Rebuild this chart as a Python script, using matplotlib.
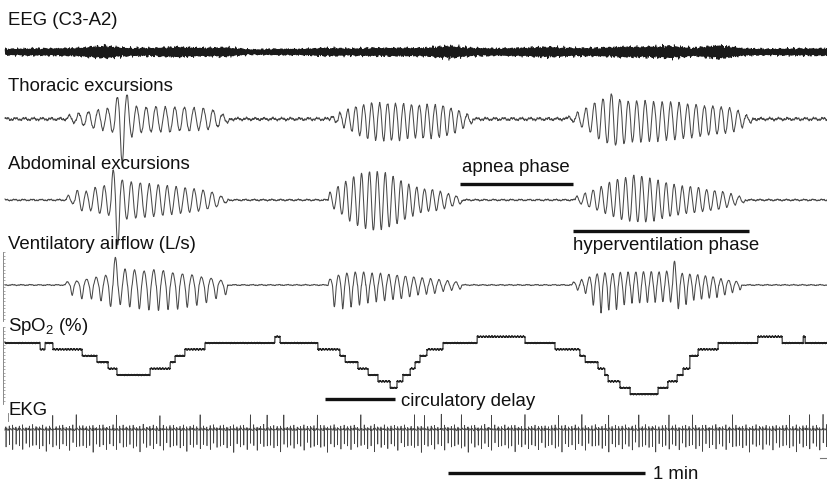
import numpy as np
import matplotlib.pyplot as plt

plt.rcParams['font.family'] = ['Liberation Sans', 'DejaVu Sans']
plt.rcParams['mathtext.fontset'] = 'custom'
plt.rcParams['mathtext.rm'] = 'Liberation Sans'

# time axis: 1 min = 197 px, traces start at x = 5 px
PX_PER_S = 197 / 60.0
X0 = 5
T_END = 250.7

# ---- respiration: burst start/end (s) and breath-by-breath deflections (px)
thor_bursts = [(18.9, 68.5), (99.0, 142.5), (171.2, 227.8)]
thor_up = [[3, 5, 7, 9, 11, 23, 25, 13, 12, 12, 11, 11, 11, 10, 10, 9, 5],
           [3, 7, 10, 13, 14, 15, 15, 15, 15, 15, 15, 15, 15, 14, 13, 10, 7, 4],
           [3, 7, 11, 16, 20, 25, 19, 17, 17, 17, 16, 16, 16, 16, 15, 15, 14, 14, 13, 12, 9, 4]]
thor_down = [[3, 6, 9, 11, 14, 45, 18, 14, 13, 12, 12, 11, 11, 10, 10, 8, 4],
             [4, 9, 13, 17, 19, 20, 21, 21, 21, 20, 20, 20, 19, 18, 16, 13, 8, 4],
             [3, 8, 13, 20, 24, 26, 24, 22, 22, 21, 21, 20, 20, 19, 19, 18, 17, 16, 15, 13, 9, 4]]

abd_bursts = [(18.6, 67.9), (98.4, 139.2), (173.6, 225.4)]
abd_up = [[4, 9, 8, 12, 14, 30, 20, 18, 17, 16, 15, 14, 13, 12, 11, 10, 8, 4],
          [8, 14, 19, 23, 26, 28, 28, 27, 24, 20, 16, 13, 11, 10, 8, 6, 4],
          [4, 7, 10, 13, 17, 20, 22, 25, 24, 22, 20, 18, 16, 14, 13, 12, 10, 9, 8, 6, 4]]
abd_down = [[3, 10, 10, 13, 15, 45, 19, 18, 17, 16, 15, 14, 13, 12, 11, 9, 7, 3],
            [9, 15, 21, 25, 28, 30, 29, 27, 24, 20, 16, 13, 11, 10, 8, 6, 4],
            [4, 7, 10, 13, 16, 19, 21, 22, 22, 21, 19, 17, 15, 13, 12, 11, 10, 9, 7, 5, 3]]

flow_bursts = [(18.3, 67.9), (98.4, 139.2), (172.7, 224.5)]
flow_up = [[3, 4, 6, 8, 10, 28, 16, 15, 14, 15, 14, 12, 11, 10, 8, 7, 5],
           [6, 10, 12, 13, 13, 12, 12, 11, 10, 9, 8, 7, 6, 5, 4, 3],
           [3, 5, 8, 11, 12, 12, 13, 13, 13, 13, 13, 13, 14, 24, 12, 11, 10, 9, 8, 6, 5, 4]]
flow_down = [[10, 14, 14, 16, 22, 20, 22, 24, 25, 25, 24, 24, 22, 20, 18, 14, 10],
             [22, 24, 22, 20, 18, 17, 16, 15, 14, 12, 10, 9, 8, 6, 5, 4],
             [5, 8, 20, 28, 25, 25, 20, 18, 18, 17, 17, 17, 17, 24, 20, 15, 14, 13, 12, 10, 8, 5]]

# ---- SpO2 steps: start time (s) and level (%)
spo2_t = [0, 10.7, 12.2, 14.6, 23.5, 28.0, 31.4, 34.1, 44.2, 50.3, 51.8, 54.8, 60.9,
          82.2, 83.8, 95.3, 102.0, 103.6, 107.5, 110.6, 113.6, 117.3, 119.4, 121.2,
          123.4, 124.9, 126.4, 128.5, 133.4, 143.8, 158.4, 167.5, 175.1, 176.7, 180.6,
          182.7, 183.7, 187.3, 190.4, 198.9, 201.9, 204.7, 206.5, 208.6, 211.1, 217.2,
          229.3, 236.7, 243.1, 243.7]
spo2_val = [96, 95, 96, 95, 94, 93, 92, 91, 92, 93, 94, 95, 96,
            97, 96, 95, 94, 93, 92, 91, 90, 89, 90, 91,
            92, 93, 94, 95, 96, 97, 96, 95, 94, 93, 92,
            91, 90, 89, 88, 89, 90, 91, 92, 94, 95, 96,
            97, 96, 97, 96]

# ---- EEG envelope (half-band, px) sampled every 7.5 s
eeg_env_t = np.arange(0, 255, 7.5)
eeg_env = [3, 3.5, 3.5, 4, 6, 4, 4, 5, 4, 4.5, 2.5, 3, 3, 4, 3.5, 4, 4, 4,
           6, 4, 3.5, 4, 5, 4, 4, 5, 5, 6, 4, 6.5, 3.5, 3, 3.5, 3.5]

# ---- EKG: RR interval (s), times of the tall R waves (s)
rr = 1.02
tall_r = [14.6, 21.3, 33.5, 47.2, 59.4, 75.2, 79.8, 84.7, 95.3, 108.7, 124.3, 127.9,
          133.4, 138.6, 148.3, 158.4, 168.4, 176.0, 183.7, 193.4, 202.5, 209.5,
          221.4, 239.1, 245.2, 249.1]
s_depth = [17, 15, 19, 14, 16, 20, 13, 17, 16, 15, 18, 16, 22, 14]

# annotation spans (s)
apnea = (138.6, 173.0)
hypervent = (173.0, 226.6)
circ_delay = (97.5, 118.8)
scale_bar = (134.9, 194.9)


def px2s(x):
    return (x - X0) / PX_PER_S


def breathing(t, bursts, ups, downs, sharp=1.0):
    v = np.zeros_like(t)
    for (t0, t1), up, dn in zip(bursts, ups, downs):
        n = len(up)
        per = (t1 - t0) / n
        m = (t >= t0) & (t < t1)
        k = np.minimum(((t[m] - t0) // per).astype(int), n - 1)
        ph = (t[m] - t0) / per - k
        s = np.sin(2 * np.pi * ph)
        a_up = np.asarray(up, float)[k]
        a_dn = np.asarray(dn, float)[k]
        v[m] = np.where(s > 0, a_up * s, -a_dn * np.abs(s) ** sharp)
    return v


def wiggle(t, amp, ph, fine=0.2):
    w = (0.45 * np.sin(2 * np.pi * 0.37 * t + ph)
         + 0.30 * np.sin(2 * np.pi * 1.13 * t + 2.1 * ph)
         + 0.25 * np.sin(2 * np.pi * 2.71 * t + 0.7 * ph)
         + fine * np.sin(2 * np.pi * 6.3 * t + 1.9 * ph))
    return amp * w


fig = plt.figure(figsize=(8.28, 4.83), dpi=100)
ax = fig.add_axes([0, 0, 1, 1])
ax.set_xlim(px2s(0), px2s(828))
ax.set_ylim(483, 0)
ax.axis('off')

t = np.arange(0, T_END, 0.02)

# EEG
te = np.arange(0, T_END, 0.005)
carrier = (np.sin(2 * np.pi * 6.1 * te) + 0.8 * np.sin(2 * np.pi * 9.7 * te + 1.0)
           + 0.7 * np.sin(2 * np.pi * 13.3 * te + 2.0) + 0.6 * np.sin(2 * np.pi * 18.9 * te + 0.5)
           + 0.5 * np.sin(2 * np.pi * 24.1 * te + 1.7) + 0.4 * np.sin(2 * np.pi * 31.7 * te + 2.9)
           + 0.5 * np.sin(2 * np.pi * 0.83 * te) * np.sin(2 * np.pi * 43.3 * te))
carrier = carrier / 2.7
eeg = np.interp(te, eeg_env_t, eeg_env) * carrier
ax.plot(te, 52 - eeg, color='#1a1a1a', lw=0.4)

# respiration traces
thor = breathing(t, thor_bursts, thor_up, thor_down) + wiggle(t, 2.0, 0.3, fine=0.08)
abd = breathing(t, abd_bursts, abd_up, abd_down) + wiggle(t, 1.1, 1.1, fine=0.1)
flow = breathing(t, flow_bursts, flow_up, flow_down, sharp=1.8) + wiggle(t, 0.7, 2.4, fine=0.1)
ax.plot(t, 119 - thor, color='#4a4a4a', lw=0.75)
ax.plot(t, 200 - abd, color='#4a4a4a', lw=0.75)
ax.plot(t, 285 - flow, color='#4a4a4a', lw=0.75)

# SpO2 staircase (6.4 px per %)
idx = np.searchsorted(spo2_t, t, side='right') - 1
lvl = np.asarray(spo2_val, float)[idx]
sp_y = 343 - (lvl - 96) * 6.4 - wiggle(t * 3.1, 0.7, 0.9)
ax.plot(t, sp_y, color='#222222', lw=0.8)

# EKG
ek_x, ek_y = [], []
beats = np.arange(0.3, T_END, rr)
tall = np.asarray(tall_r)
for i, tb in enumerate(beats):
    r = 15 if np.min(np.abs(tall - tb)) < rr / 2 else 3 + (i % 3)
    s = s_depth[i % len(s_depth)]
    ek_x += [tb - 0.35, tb - 0.25, tb - 0.08, tb - 0.03, tb + 0.02, tb + 0.07, tb + 0.3, tb + 0.45]
    ek_y += [0, 1.5, 0, r, -s, 0, 1.8, 0]
ek_x = np.asarray(ek_x)
ek_y = np.asarray(ek_y) + wiggle(ek_x * 2.0, 0.8, 0.2)
ax.plot(ek_x, 430 - ek_y, color='#444444', lw=0.5)

# left calibration scales
for y0, y1 in [(252, 321), (327, 404)]:
    ax.plot([px2s(3), px2s(3)], [y0, y1], color='#777777', lw=0.6)
    ax.hlines(np.arange(y0, y1, 3.5), px2s(3), px2s(5), color='#888888', lw=0.5)
ax.plot([px2s(8), px2s(8)], [413, 421], color='#777777', lw=0.6)
ax.plot([px2s(820), px2s(828)], [458, 458], color='#777777', lw=0.8)

# labels
lab = dict(fontsize=13.4, va='baseline', ha='left', color='#111111')
ax.text(px2s(8), 25, 'EEG (C3-A2)', **lab)
ax.text(px2s(8), 91, 'Thoracic excursions', **lab)
ax.text(px2s(8), 169, 'Abdominal excursions', **lab)
ax.text(px2s(8), 249, 'Ventilatory airflow (L/s)', **lab)
ax.text(px2s(8), 331, r'SpO$_\mathrm{2}$ (%)', **lab)
ax.text(px2s(8), 415, 'EKG', **lab)

# phase annotations
bar = dict(color='#111111', lw=2.4, solid_capstyle='butt')
ax.plot(apnea, [184, 184], **bar)
ax.text(px2s(462), 172, 'apnea phase', **lab)
ax.plot(hypervent, [231, 231], **bar)
ax.text(px2s(573), 250, 'hyperventilation phase', **lab)
ax.plot(circ_delay, [399, 399], **bar)
ax.text(px2s(401), 406, 'circulatory delay', **lab)
ax.plot(scale_bar, [473, 473], **bar)
ax.text(px2s(653), 479, '1 min', **lab)

fig.savefig('out.png', dpi=100)
